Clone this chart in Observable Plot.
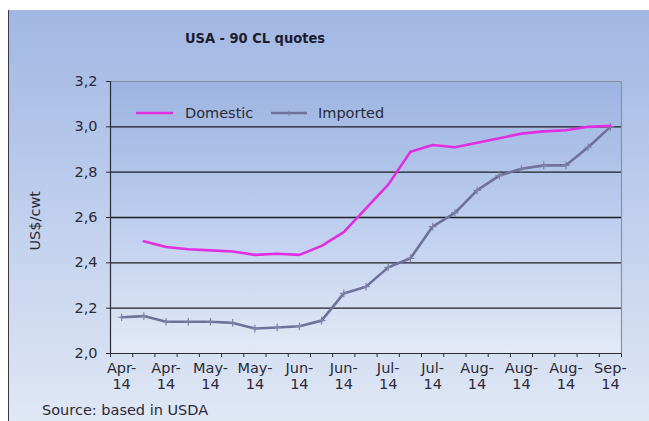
<!DOCTYPE html>
<html>
<head>
<meta charset="utf-8">
<script src="https://cdn.jsdelivr.net/npm/d3@7"></script>
<script src="https://cdn.jsdelivr.net/npm/@observablehq/plot@0.6"></script>
<style>
  html, body { margin: 0; padding: 0; background: #ffffff; }
  #chart {
    position: absolute; left: 8px; top: 10px; width: 641px; height: 411px;
    box-sizing: border-box; border-left: 1px solid #3a3a44; overflow: hidden;
    background: linear-gradient(180deg, #a1b7e3 0%, #b6c8ea 35%, #cdd9f0 70%, #e0e7f5 100%);
    font-family: "DejaVu Sans", Verdana, sans-serif; color: #2a2a36;
  }
  #title {
    position: absolute; left: 0; top: 19px; width: 492px; text-align: center;
    font: bold 14.5px "DejaVu Sans Condensed", "DejaVu Sans", sans-serif; font-stretch: condensed;
    line-height: 18px; color: #1c1c2e;
  }
  #plot { position: absolute; left: 0; top: 50px; }
  .leg { position: absolute; font-size: 14.5px; line-height: 18px; }
  .leg svg { position: absolute; top: 6px; }
  #source { position: absolute; left: 33px; top: 391px; font-size: 14.5px; line-height: 18px; }
</style>
</head>
<body>
<div id="chart">
  <div id="title">USA - 90 CL quotes</div>
  <div id="plot"></div>
  <div class="leg" style="left:127px; top:94px;">
    <svg width="38" height="6"><line x1="0" y1="3" x2="37" y2="3" stroke="#e02ee0" stroke-width="2.6"/></svg>
    <span style="position:absolute; left:49px; white-space:nowrap;">Domestic</span>
  </div>
  <div class="leg" style="left:262px; top:94px;">
    <svg width="38" height="6"><line x1="0" y1="3" x2="36" y2="3" stroke="#6f7198" stroke-width="2.6"/><line x1="18" y1="0.5" x2="18" y2="5.5" stroke="#7f81a6" stroke-width="1.2"/></svg>
    <span style="position:absolute; left:47px; white-space:nowrap;">Imported</span>
  </div>
  <div id="source">Source: based in USDA</div>
</div>
<script>
// Weekly quotes, US$/cwt, April to September 2014 (23 weeks)
const domestic = [null, 2.495, 2.47, 2.46, 2.455, 2.45, 2.435, 2.44, 2.435, 2.475, 2.535,
  2.64, 2.745, 2.89, 2.92, 2.91, 2.93, 2.95, 2.97, 2.98, 2.985, 3.0, 3.005];
const imported = [2.16, 2.165, 2.14, 2.14, 2.14, 2.135, 2.11, 2.115, 2.12, 2.145, 2.265,
  2.295, 2.38, 2.42, 2.56, 2.62, 2.72, 2.785, 2.815, 2.83, 2.83, 2.91, 3.0];
// Date labels shown under every other week
const weekLabels = ["Apr-14", "Apr-14", "May-14", "May-14", "Jun-14", "Jun-14",
  "Jul-14", "Jul-14", "Aug-14", "Aug-14", "Aug-14", "Sep-14"];
const yTicks = [2.0, 2.2, 2.4, 2.6, 2.8, 3.0, 3.2];
const gridValues = [2.2, 2.4, 2.6, 2.8, 3.0];

const nWeeks = imported.length;
const domRows = domestic.map((v, i) => ({week: i + 0.5, value: v})).filter(d => d.value != null);
const impRows = imported.map((v, i) => ({week: i + 0.5, value: v}));
const labelRows = weekLabels.map((t, k) => ({week: 2 * k + 0.5, text: t.replace("-", "-\n")}));

const chart = Plot.plot({
  width: 640,
  height: 335,
  marginTop: 21,
  marginLeft: 101,
  marginRight: 28,
  marginBottom: 42,
  style: {fontSize: "14.5px", fontFamily: "'DejaVu Sans', Verdana, sans-serif", color: "#2a2a36", background: "transparent"},
  x: {domain: [0, nWeeks], ticks: d3.range(nWeeks + 1), tickSize: 4, tickFormat: () => "", label: null},
  y: {domain: [2.0, 3.2], ticks: yTicks, tickSize: 4, tickPadding: 9,
      tickFormat: d => d.toFixed(1).replace(".", ","), label: null},
  marks: [
    Plot.frame({fill: "url(#plotBg)", stroke: "none"}),
    Plot.ruleY(gridValues, {stroke: "#1e1e24", strokeWidth: 1.3}),
    Plot.ruleY([3.2], {stroke: "#8b90a0", strokeWidth: 1.2}),
    Plot.ruleX([nWeeks], {stroke: "#8b90a0", strokeWidth: 1.2}),
    Plot.ruleX([0], {stroke: "#2c2c34", strokeWidth: 1.2}),
    Plot.ruleY([2.0], {stroke: "#2c2c34", strokeWidth: 1.2}),
    Plot.line(impRows, {x: "week", y: "value", stroke: "#6f7198", strokeWidth: 2.6}),
    Plot.dot(impRows, {x: "week", y: "value", symbol: "plus", r: 2.6, stroke: "#8082a8", strokeWidth: 1.2}),
    Plot.line(domRows, {x: "week", y: "value", stroke: "#e02ee0", strokeWidth: 2.6}),
    Plot.text(labelRows, {x: "week", text: "text", frameAnchor: "bottom", lineAnchor: "top",
      dy: 8, lineHeight: 1.1, fill: "#2a2a36"}),
    Plot.text(["US$/cwt"], {frameAnchor: "left", dx: -75, dy: 33, rotate: -90, fill: "#2a2a36"})
  ]
});

// Vertical gradient for the plotting area
d3.select(chart).insert("defs", ":first-child").html(
  '<linearGradient id="plotBg" x1="0" y1="0" x2="0" y2="1">' +
  '<stop offset="0%" stop-color="#9cb4e1"/>' +
  '<stop offset="50%" stop-color="#bccdee"/>' +
  '<stop offset="100%" stop-color="#e3e9f6"/>' +
  '</linearGradient>');

document.getElementById("plot").appendChild(chart);
</script>
</body>
</html>
